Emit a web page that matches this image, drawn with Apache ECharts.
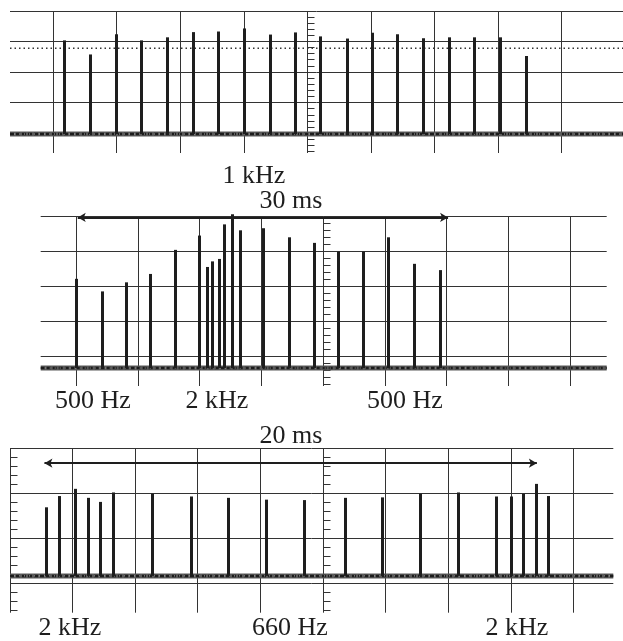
<!DOCTYPE html>
<html>
<head>
<meta charset="utf-8">
<script src="https://cdn.jsdelivr.net/npm/echarts@6/dist/echarts.min.js"></script>
<style>
  html, body { margin: 0; padding: 0; background: #fff; }
  #chart { width: 623px; height: 641px; }
</style>
</head>
<body>
<div id="chart"></div>
<script>
// Pulse trains read in screen divisions:
// x = divisions from the centre graticule line, y = divisions above the lowest graticule line.

// Upper trace
const topPulseX = [-3.82, -3.42, -3.01, -2.61, -2.20, -1.80, -1.40, -0.99, -0.59, -0.19,
                   0.21, 0.62, 1.02, 1.42, 1.83, 2.23, 2.63, 3.04, 3.44];
const topPulseY = [3.04, 2.58, 3.24, 3.04, 3.14, 3.31, 3.33, 3.43, 3.23, 3.30,
                   3.17, 3.10, 3.29, 3.24, 3.11, 3.14, 3.14, 3.14, 2.53];
const topTraceLevel = -0.02;
const topRefLevel = 2.78;

// Middle trace: 500 Hz -> 2 kHz -> 500 Hz sweep
const midPulseX = [-4.00, -3.58, -3.19, -2.80, -2.39, -2.00, -1.88, -1.79, -1.68, -1.60,
                   -1.47, -1.35, -0.97, -0.55, -0.15, 0.24, 0.65, 1.06, 1.47, 1.90];
const midPulseY = [2.22, 1.86, 2.12, 2.36, 3.05, 3.46, 2.56, 2.72, 2.79, 3.78,
                   4.07, 3.61, 3.67, 3.41, 3.25, 3.00, 3.00, 3.41, 2.65, 2.47];
const midTraceLevel = -0.335;
const midSpan = [-3.98, 2.02];
const midSpanLevel = 3.98;

// Lower trace: 2 kHz -> 660 Hz -> 2 kHz sweep
const botPulseX = [-4.41, -4.21, -3.95, -3.75, -3.56, -3.35, -2.72, -2.11, -1.51, -0.90,
                   -0.30, 0.36, 0.94, 1.56, 2.16, 2.76, 3.01, 3.19, 3.41, 3.60];
const botPulseY = [1.69, 1.94, 2.10, 1.90, 1.81, 2.02, 1.99, 1.93, 1.90, 1.86,
                   1.85, 1.90, 1.91, 1.99, 2.02, 1.93, 1.93, 1.99, 2.21, 1.94];
const botTraceLevel = 0.167;
const botSpan = [-4.45, 3.41];
const botSpanLevel = 2.67;

// Graticule divisions
const divisionsX = [-4, -3, -2, -1, 0, 1, 2, 3, 4];
const topDivisionsY = [0, 1, 2, 3, 4];
const midDivisionsY = [0, 1, 2, 3, 4];
const botDivisionsY = [0, 1, 2, 3];
const topMinorY = [-0.6, -0.4, -0.2, 0, 0.2, 0.4, 0.6, 0.8, 1, 1.2, 1.4, 1.6, 1.8, 2, 2.2, 2.4, 2.6, 2.8, 3, 3.2, 3.4, 3.6, 3.8, 4];
const midMinorY = [-0.8, -0.6, -0.4, -0.2, 0, 0.2, 0.4, 0.6, 0.8, 1, 1.2, 1.4, 1.6, 1.8, 2, 2.2, 2.4, 2.6, 2.8, 3, 3.2, 3.4, 3.6, 3.8, 4];
const botMinorY = [-0.6, -0.4, -0.2, 0, 0.2, 0.4, 0.6, 0.8, 1, 1.2, 1.4, 1.6, 1.8, 2, 2.2, 2.4, 2.6, 2.8, 3];

// Annotations
const midHeadings = ['1 kHz', '30 ms'];
const midLabels = ['500 Hz', '2 kHz', '500 Hz'];
const botHeading = '20 ms';
const botLabels = ['2 kHz', '660 Hz', '2 kHz'];

const INK = '#1e1e1e';
const GRID = '#333333';
const FONT = '"Liberation Serif", "Times New Roman", serif';

const chart = echarts.init(document.getElementById('chart'), null, { renderer: 'canvas' });

const crisp = v => Math.round(v) + 0.5;

function verticalLines(i, values) {
  return {
    type: 'custom', xAxisIndex: i, yAxisIndex: i, silent: true, z: 1,
    data: values.map(v => [v, 0]),
    renderItem(params, api) {
      const cs = params.coordSys;
      const x = crisp(api.coord([api.value(0), 0])[0] - 0.5);
      return { type: 'line', shape: { x1: x, y1: cs.y, x2: x, y2: cs.y + cs.height },
               style: { stroke: GRID, lineWidth: 1 } };
    }
  };
}

function horizontalLines(i, values) {
  return {
    type: 'custom', xAxisIndex: i, yAxisIndex: i, silent: true, z: 1,
    data: values.map(v => [0, v]),
    renderItem(params, api) {
      const cs = params.coordSys;
      const y = crisp(api.coord([0, api.value(1)])[1] - 0.5);
      return { type: 'line', shape: { x1: cs.x, y1: y, x2: cs.x + cs.width, y2: y },
               style: { stroke: GRID, lineWidth: 1 } };
    }
  };
}

// short ticks on the right-hand side of a vertical axis line at division xAt
function minorTicks(i, xAt, values) {
  return {
    type: 'custom', xAxisIndex: i, yAxisIndex: i, silent: true, z: 2,
    data: values.map(v => [xAt, v]),
    renderItem(params, api) {
      const p = api.coord([api.value(0), api.value(1)]);
      const x = crisp(p[0] - 0.5);
      const y = crisp(p[1] - 0.5);
      return { type: 'line', shape: { x1: x, y1: y, x2: x + 7, y2: y },
               style: { stroke: GRID, lineWidth: 1 } };
    }
  };
}

function pulses(i, xs, ys, base) {
  return {
    type: 'custom', xAxisIndex: i, yAxisIndex: i, silent: true, z: 4,
    data: xs.map((x, k) => [x, ys[k]]),
    renderItem(params, api) {
      const top = api.coord([api.value(0), api.value(1)]);
      const bottom = api.coord([api.value(0), base]);
      const x = crisp(top[0] - 0.5);
      return { type: 'line', shape: { x1: x, y1: bottom[1], x2: x, y2: top[1] },
               style: { stroke: INK, lineWidth: 3, lineCap: 'butt' } };
    }
  };
}

// the noisy zero trace: a dark band with a lighter broken speckle
function trace(i, level, range) {
  const pts = [[range[0], level], [range[1], level]];
  const common = { type: 'line', xAxisIndex: i, yAxisIndex: i, silent: true, showSymbol: false,
                   symbol: 'none', animation: false, data: pts };
  return [
    Object.assign({}, common, { z: 3, lineStyle: { color: '#5a5a5a', width: 5 } }),
    Object.assign({}, common, { z: 3, lineStyle: { color: '#1c1c1c', width: 2.5, type: [4, 2] } }),
    Object.assign({}, common, { z: 3, lineStyle: { color: '#a8a8a8', width: 1, type: [1, 4], dashOffset: 1 } })
  ];
}

function span(i, range, level) {
  return {
    type: 'line', xAxisIndex: i, yAxisIndex: i, silent: true, data: [], z: 5,
    markLine: {
      silent: true, animation: false,
      symbol: ['arrow', 'arrow'], symbolSize: [7, 8],
      label: { show: false },
      lineStyle: { color: INK, width: 2, type: 'solid' },
      emphasis: { disabled: true },
      data: [[{ coord: [range[0], level] }, { coord: [range[1], level] }]]
    }
  };
}

const ranges = [
  { x: [-4.68, 4.96], y: [-0.64, 4] },
  { x: [-4.58, 4.59], y: [-0.85, 4] },
  { x: [-5, 4.63], y: [-0.65, 3] }
];

function text(str, cx, baseline) {
  return {
    type: 'text', x: cx, y: baseline - 9, silent: true,
    style: { text: str, fill: INK, font: '26px ' + FONT, align: 'center', verticalAlign: 'middle' }
  };
}

const option = {
  animation: false,
  backgroundColor: '#ffffff',
  grid: [
    { left: 10, top: 11, width: 613, height: 142 },
    { left: 40.7, top: 216.7, width: 566, height: 169.3 },
    { left: 10, top: 448.3, width: 603.3, height: 164.4 }
  ],
  xAxis: ranges.map((r, i) => ({ type: 'value', gridIndex: i, min: r.x[0], max: r.x[1], show: false })),
  yAxis: ranges.map((r, i) => ({ type: 'value', gridIndex: i, min: r.y[0], max: r.y[1], show: false })),
  series: [
    // upper trace
    verticalLines(0, divisionsX),
    horizontalLines(0, topDivisionsY),
    minorTicks(0, 0, topMinorY),
    {
      type: 'line', xAxisIndex: 0, yAxisIndex: 0, silent: true, symbol: 'none', z: 2,
      data: [[ranges[0].x[0], topRefLevel], [ranges[0].x[1], topRefLevel]],
      lineStyle: { color: '#333', width: 1.5, type: [1.5, 3] }
    },
    ...trace(0, topTraceLevel, ranges[0].x),
    pulses(0, topPulseX, topPulseY, topTraceLevel),

    // middle trace
    verticalLines(1, divisionsX),
    horizontalLines(1, midDivisionsY),
    minorTicks(1, 0, midMinorY),
    ...trace(1, midTraceLevel, ranges[1].x),
    pulses(1, midPulseX, midPulseY, midTraceLevel),
    span(1, midSpan, midSpanLevel),

    // lower trace
    verticalLines(2, [-5].concat(divisionsX)),
    horizontalLines(2, botDivisionsY),
    minorTicks(2, 0, botMinorY),
    minorTicks(2, -5, botMinorY),
    ...trace(2, botTraceLevel, ranges[2].x),
    pulses(2, botPulseX, botPulseY, botTraceLevel),
    span(2, botSpan, botSpanLevel)
  ],
  graphic: [
    text(midHeadings[0], 254, 185),
    text(midHeadings[1], 291, 210),
    text(midLabels[0], 93, 410),
    text(midLabels[1], 217, 410),
    text(midLabels[2], 405, 410),
    text(botHeading, 291, 445),
    text(botLabels[0], 70, 637),
    text(botLabels[1], 290, 637),
    text(botLabels[2], 517, 637)
  ]
};

chart.setOption(option);
</script>
</body>
</html>
